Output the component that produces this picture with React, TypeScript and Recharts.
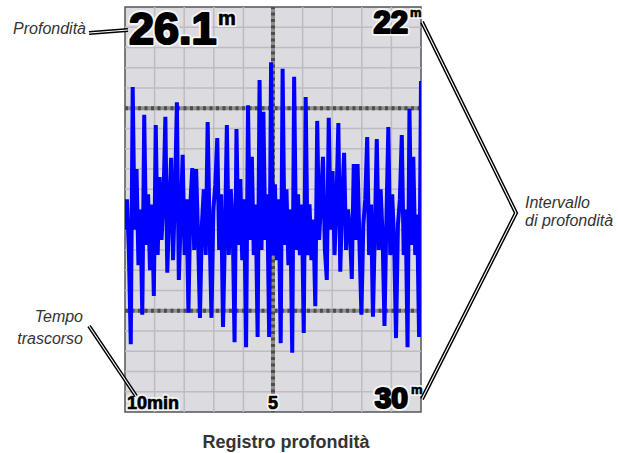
import React from 'react';
import { LineChart, Line, XAxis, YAxis, ReferenceLine, ReferenceArea } from 'recharts';

// Depth log samples (metres), oldest (10 min ago) on the left, newest on the right
const depthLog: number[] = [
  26.4, 25.8, 26.8,
  28.66, 23.58, 26.4, 25.2, 27.1, 26.0,
  28.08, 24.13, 26.7, 25.7, 27.2, 25.9,
  27.71, 24.33, 26.9, 25.36, 26.6, 25.8,
  24.17, 27.25, 26.0, 24.98, 27.0, 25.7,
  23.88, 27.39, 26.2, 24.92, 26.9, 25.8,
  28.04, 25.9, 25.18, 26.8, 25.2, 26.5,
  28.14, 26.3, 25.6, 26.9, 24.27, 26.4,
  28.14, 26.0, 25.5, 24.59, 26.8, 25.7,
  28.32, 26.5, 24.33, 26.9, 25.6, 26.2,
  28.62, 24.41, 26.7, 25.4, 27.0, 25.8,
  28.72, 23.94, 26.6, 24.96, 26.9, 25.9,
  28.52, 23.44, 26.8, 24.07, 26.6, 25.7,
  28.52, 23.09, 26.9, 25.5, 27.0, 25.8,
  28.64, 23.22, 26.7, 25.6, 27.1, 26.0,
  28.83, 23.38, 26.8, 25.7, 26.9, 25.9,
  28.44, 23.78, 26.9, 25.9, 27.0, 26.2,
  27.91, 24.25, 26.6, 25.8, 24.96, 26.8,
  27.39, 24.19, 26.4, 25.24, 26.9, 25.9,
  24.29, 27.23, 25.8, 24.88, 26.8, 26.0,
  26.4, 27.37, 25.1, 26.6, 25.1, 26.7,
  28.08, 26.3, 25.8, 24.57, 26.9, 25.9,
  28.12, 26.4, 24.61, 26.8, 25.6, 26.5,
  28.3, 26.2, 24.37, 26.9, 25.7, 26.6,
  28.54, 26.3, 25.8, 24.53, 26.9, 26.0,
  28.72, 24.01, 26.7, 24.96, 26.9, 26.1,
  28.52, 23.46,
];

const logSpanMinutes = 10;
const minuteGrid = [1, 2, 3, 4, 6, 7, 8, 9];
const minuteMajor = [5];
const depthGrid = [22.4, 22.8, 23.2, 23.6, 24.4, 24.8, 25.2, 25.6, 26.0, 26.4, 26.8, 27.2, 27.6, 28.4, 28.8, 29.2, 29.6];
const depthMajor = [24, 28];
const rangeTop = 22;
const rangeBottom = 30;
const currentDepth = '26.1';
const unit = 'm';
const elapsedLabels = ['10min', '5'];
const calloutDepth = 'Profondità';
const calloutRange = ['Intervallo', 'di profondità'];
const calloutTime = ['Tempo', 'trascorso'];
const caption = 'Registro profondità';

// samples are evenly spaced over the logged span; newest sample = 0 min ago
const data = depthLog.map((depth, i) => ({
  minutesAgo: logSpanMinutes * (1 - i / (depthLog.length - 1)),
  depth,
}));

const W = 618;
const H = 453;
const FONT = '"Liberation Sans", Arial, sans-serif';

const Heavy = ({ x, y, size, anchor = 'start', children }: any) => (
  <g>
    <text x={x} y={y} fontSize={size} fontFamily={FONT} fontWeight="bold" textAnchor={anchor}
      fill="#fff" stroke="#f4f4f4" strokeWidth={size > 25 ? 6 : 4} strokeLinejoin="round">{children}</text>
    <text x={x} y={y} fontSize={size} fontFamily={FONT} fontWeight="bold" textAnchor={anchor}
      fill="#000" stroke="#000" strokeWidth={size > 25 ? 2.2 : 0.7} strokeLinejoin="round">{children}</text>
  </g>
);

const Callout = ({ pts }: { pts: string }) => (
  <g>
    <polyline points={pts} fill="none" stroke="#000" strokeWidth={4} strokeLinejoin="miter" />
    <polyline points={pts} fill="none" stroke="#fff" strokeWidth={1.1} strokeLinejoin="miter" />
  </g>
);

export default function App() {
  return (
    <div style={{ position: 'absolute', left: 0, top: 0, width: W, height: H, background: '#fff' }}>
      <LineChart width={W} height={H} data={data} margin={{ top: 7, right: 197, bottom: 41, left: 125 }}>
        <XAxis type="number" dataKey="minutesAgo" domain={[0, logSpanMinutes]} reversed hide allowDataOverflow />
        <YAxis type="number" domain={[rangeTop, rangeBottom]} reversed hide allowDataOverflow />
        <ReferenceArea x1={0} x2={logSpanMinutes} y1={rangeTop} y2={rangeBottom} fill="#dcdbe0" fillOpacity={1} stroke="none" />
        {depthGrid.map((d) => (
          <ReferenceLine key={'h' + d} y={d} stroke="#bebcc1" strokeWidth={1.5} />
        ))}
        {minuteGrid.map((m) => (
          <ReferenceLine key={'v' + m} x={m} stroke="#bebcc1" strokeWidth={1.5} />
        ))}
        {depthMajor.map((d) => (
          <ReferenceLine key={'H' + d} y={d} stroke="#8f8f8f" strokeWidth={4} />
        ))}
        {depthMajor.map((d) => (
          <ReferenceLine key={'Hd' + d} y={d} stroke="#4d4d4d" strokeWidth={4} strokeDasharray="3 3.5" />
        ))}
        {minuteMajor.map((m) => (
          <ReferenceLine key={'V' + m} x={m} stroke="#8f8f8f" strokeWidth={4} />
        ))}
        {minuteMajor.map((m) => (
          <ReferenceLine key={'Vd' + m} x={m} stroke="#4d4d4d" strokeWidth={4} strokeDasharray="3 3.5" />
        ))}
        <Line type="linear" dataKey="depth" stroke="#0000ff" strokeWidth={4}
          strokeLinejoin="bevel" dot={false} activeDot={false} isAnimationActive={false} />
        <ReferenceArea x1={0} x2={logSpanMinutes} y1={rangeTop} y2={rangeBottom} fill="none" stroke="#555" strokeWidth={1.5} />
      </LineChart>
      <svg width={W} height={H} style={{ position: 'absolute', left: 0, top: 0, pointerEvents: 'none' }}>
        <Heavy x={129} y={44} size={45}>{currentDepth}</Heavy>
        <Heavy x={218} y={25} size={20}>{unit}</Heavy>
        <Heavy x={408} y={33} size={31} anchor="end">{String(rangeTop)}</Heavy>
        <Heavy x={410} y={17} size={13}>{unit}</Heavy>
        <Heavy x={408} y={408} size={30} anchor="end">{String(rangeBottom)}</Heavy>
        <Heavy x={411} y={394} size={13}>{unit}</Heavy>
        <Heavy x={127} y={409} size={18}>{elapsedLabels[0]}</Heavy>
        <Heavy x={273} y={409} size={18} anchor="middle">{elapsedLabels[1]}</Heavy>

        <Callout pts="89,33 128,30" />
        <Callout pts="422,22 516,213 422,399" />
        <Callout pts="89,326 136,396" />

        <text x={86} y={34} fontSize={16} fontStyle="italic" fontFamily={FONT} fill="#333" textAnchor="end">{calloutDepth}</text>
        <text x={525} y={208} fontSize={16} fontStyle="italic" fontFamily={FONT} fill="#333">{calloutRange[0]}</text>
        <text x={525} y={226} fontSize={16} fontStyle="italic" fontFamily={FONT} fill="#333">{calloutRange[1]}</text>
        <text x={83} y={322} fontSize={16} fontStyle="italic" fontFamily={FONT} fill="#333" textAnchor="end">{calloutTime[0]}</text>
        <text x={83} y={344} fontSize={16} fontStyle="italic" fontFamily={FONT} fill="#333" textAnchor="end">{calloutTime[1]}</text>
        <text x={286} y={448} fontSize={18} fontWeight="bold" fontFamily={FONT} fill="#333" textAnchor="middle">{caption}</text>
      </svg>
    </div>
  );
}
